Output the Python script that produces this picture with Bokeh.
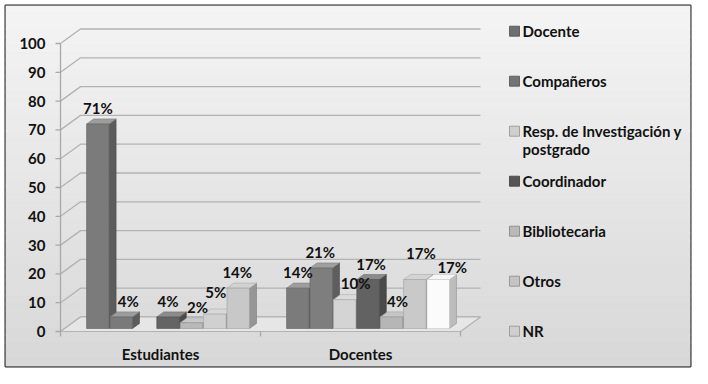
import numpy as np
from bokeh.plotting import figure
from bokeh.models import Range1d, ColumnDataSource
from bokeh.core.properties import value
from bokeh.embed import file_html
from bokeh.resources import INLINE

# ---------------- data ----------------
categories = ["Estudiantes", "Docentes"]
series = ["Docente", "Compañeros", "Resp. de Investigación y postgrado",
          "Coordinador", "Bibliotecaria", "Otros", "NR"]
legend_labels = ["Docente", "Compañeros", "Resp. de Investigación y\npostgrado",
                 "Coordinador", "Bibliotecaria", "Otros", "NR"]
estudiantes = [71, 4, 0, 4, 2, 5, 14]
docentes = [14, 21, 10, 17, 4, 17, 17]
y_ticks = [0, 10, 20, 30, 40, 50, 60, 70, 80, 90, 100]

# ---------------- styles ----------------
front_colors = [
    ["#7b7b7b", "#7a7a7a", "#d2d2d2", "#646464", "#b9b9b9", "#d0d0d0", "#c8c8c8"],
    ["#7b7b7b", "#7e7e7e", "#d4d4d4", "#626262", "#b6b6b6", "#c9c9c9", "#fbfbfb"],
]
legend_colors = ["#6f6f6f", "#747474", "#cfcfcf", "#555555", "#b9b9b9", "#c4c4c4", "#cfcfcf"]
# label nudges in screen pixels (dx right, dy down)
label_dx = [[0, 7, 0, 0, 6, 1, -1], [0, -1, 11, 3, 6, 6, 14]]
label_dy = [[0, 0, 0, 0, 0, -6, 0], [0, 0, -1, 0, 0, -11, 3]]

FONT = value("Lato")
W, H = 692, 368
X0_PX, Y0_PX = 60, 331      # figure pixel of data (0, 0)
PX_X, PX_Y = 200.0, 2.88    # pixels per data unit
MB_L, MB_T, MB_R, MB_B = 5, 5, 2, 2

DX, DY = 20 / PX_X, 14.5 / PX_Y   # full depth of the 3-D box in data units
Z_FRONT, Z_DEPTH = 0.207, 0.35
SLOT, BW, SHIFT = 0.117, 0.1125, 0.017


def mix(c, t, a):
    c = c.lstrip("#")
    r, g, b = (int(c[i:i + 2], 16) for i in (0, 2, 4))
    r, g, b = (round(v * (1 - a) + t * a) for v in (r, g, b))
    return "#%02x%02x%02x" % (r, g, b)


x_start = (MB_L - X0_PX) / PX_X
x_end = (W - MB_R - X0_PX) / PX_X
y_end = (Y0_PX - MB_T) / PX_Y
y_start = (Y0_PX - (H - MB_B)) / PX_Y

p = figure(width=W, height=H, output_backend="svg", toolbar_location=None,
           x_range=Range1d(x_start, x_end), y_range=Range1d(y_start, y_end),
           min_border_left=MB_L, min_border_right=MB_R,
           min_border_top=MB_T, min_border_bottom=MB_B)
p.axis.visible = False
p.grid.visible = False
p.outline_line_color = "#1e1e1e"
p.outline_line_width = 2
p.border_fill_color = "white"
p.background_fill_color = "#e8e8e8"

# background gradient strips
n = 46
edges = np.linspace(y_end, y_start, n + 1)
strip_cols = [mix("#f4f4f4", 0xd8, i / (n - 1)) for i in range(n)]
p.quad(left=x_start, right=x_end, top=edges[:-1], bottom=edges[1:],
       fill_color=strip_cols, line_color=strip_cols, line_width=0.5)

# back wall gridlines
gx = [[0, DX, 2 + DX] for _ in y_ticks]
gy = [[t, t + DY, t + DY] for t in y_ticks]
p.multi_line(gx, gy, line_color="#b2b2b2", line_width=1.3)

# floor
p.patch([0, 2, 2 + DX, DX], [0, 0, DY, DY], fill_color="#e6e6e6",
        line_color="#b2b2b2", line_width=1.2)

# axes lines and ticks
p.segment(x0=[0], y0=[0], x1=[0], y1=[100], line_color="#a8a8a8", line_width=1.3)
p.segment(x0=[0] * len(y_ticks), y0=y_ticks, x1=[-5 / PX_X] * len(y_ticks), y1=y_ticks,
          line_color="#a8a8a8", line_width=1.3)
p.segment(x0=[0, 1, 2], y0=[0, 0, 0], x1=[0, 1, 2], y1=[-5 / PX_Y] * 3,
          line_color="#a8a8a8", line_width=1.3)

# y tick labels
p.text(x=[0] * len(y_ticks), y=y_ticks, text=[str(t) for t in y_ticks],
       x_offset=-15, text_align="right", text_baseline="middle",
       text_font=FONT, text_font_style="bold", text_font_size="15px", text_color="#111111")

# category labels
p.text(x=[g + 0.5 for g in range(len(categories))], y=[0, 0], text=categories,
       y_offset=22, text_align="center", text_baseline="middle",
       text_font=FONT, text_font_style="bold", text_font_size="15px", text_color="#111111")

# 3-D bars
xs, ys, cols = [], [], []
lx, ly, lt, ldx, ldy = [], [], [], [], []
fx, fy = Z_FRONT * DX, Z_FRONT * DY
ddx, ddy = Z_DEPTH * DX, Z_DEPTH * DY
for g, vals in enumerate([estudiantes, docentes]):
    for i, v in enumerate(vals):
        if v <= 0:
            continue
        c = g + 0.5 + SHIFT + (i - 3) * SLOT
        L, R = c - BW / 2 + fx, c + BW / 2 + fx
        b, t = fy, v + fy
        col = front_colors[g][i]
        # side
        xs.append([R, R, R + ddx, R + ddx]); ys.append([b, t, t + ddy, b + ddy])
        cols.append(mix(col, 0, 0.25))
        # top
        xs.append([L, R, R + ddx, L + ddx]); ys.append([t, t, t + ddy, t + ddy])
        cols.append(mix(col, 235, 0.3))
        # front
        xs.append([L, R, R, L]); ys.append([b, b, t, t])
        cols.append(col)
        lx.append((L + R) / 2); ly.append(t); lt.append(f"{v}%")
        ldx.append(label_dx[g][i]); ldy.append(-16 + label_dy[g][i])

p.patches(xs, ys, fill_color=cols, line_color=[mix(c, 0, 0.2) for c in cols],
          line_width=0.6)

lsrc = ColumnDataSource(dict(x=lx, y=ly, text=lt, xo=ldx, yo=ldy))
p.text(x="x", y="y", text="text", x_offset="xo", y_offset="yo", source=lsrc,
       text_align="center", text_baseline="middle",
       text_font=FONT, text_font_style="bold", text_font_size="15px", text_color="#111111")

# legend (drawn by hand)
leg_x = (514 - X0_PX) / PX_X
leg_y = [(Y0_PX - 30.7 - 50 * k) / PX_Y for k in range(len(series))]
p.scatter(x=[leg_x] * len(series), y=leg_y, marker="square", size=10,
          fill_color=legend_colors, line_color=[mix(c, 0, 0.3) for c in legend_colors],
          line_width=0.8)
p.text(x=[leg_x] * len(series), y=leg_y, text=legend_labels, x_offset=8, y_offset=-9,
       text_align="left", text_baseline="top", text_line_height=1.0,
       text_font=FONT, text_font_style="bold", text_font_size="15px", text_color="#111111")

open("out.html", "w").write(file_html(p, INLINE))
